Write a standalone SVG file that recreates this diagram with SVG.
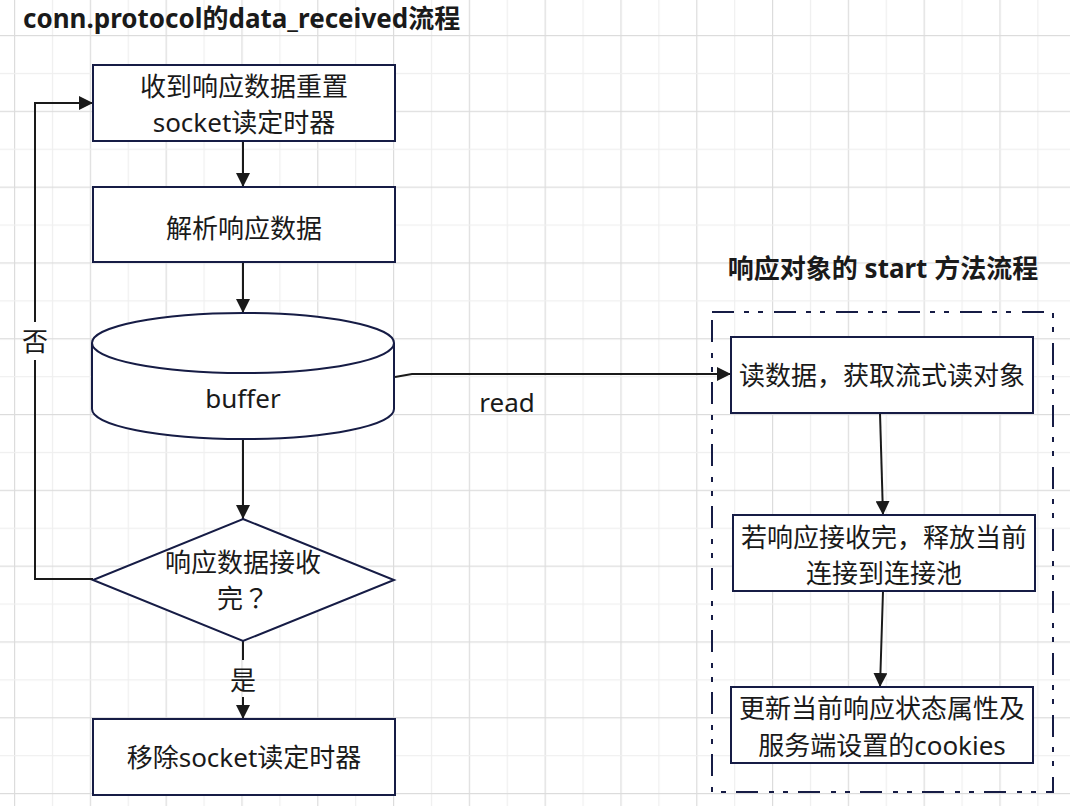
<svg xmlns="http://www.w3.org/2000/svg" width="1070" height="806" viewBox="0 0 1070 806">
<style>
.box{fill:#ffffff;stroke:#161c45;stroke-width:2}
.t{font-family:"Noto Sans","Noto Sans CJK SC",sans-serif;font-size:26px;fill:#1a1a1a;text-anchor:middle}
.tc{font-family:"Noto Sans CJK TC",sans-serif}
.ttl{font-family:"Noto Sans","Noto Sans CJK SC",sans-serif;font-size:26px;font-weight:bold;fill:#1a1a1a}
.edge{fill:none;stroke:#1a1a1a;stroke-width:2}
</style>
<defs>
<pattern id="grid" x="14" y="35" width="75.8" height="75.8" patternUnits="userSpaceOnUse">
<rect x="0" y="0" width="1.2" height="75.8" fill="#dcdcdc"/>
<rect x="37.9" y="0" width="1.2" height="75.8" fill="#efefef"/>
<rect x="0" y="0" width="75.8" height="1.2" fill="#dcdcdc"/>
<rect x="0" y="37.9" width="75.8" height="1.2" fill="#efefef"/>
</pattern>
<marker id="arr" markerUnits="userSpaceOnUse" markerWidth="14" markerHeight="14" refX="14" refY="7" orient="auto">
<path d="M0,0 L14,7 L0,14 Z" fill="#1a1a1a"/>
</marker>
</defs>
<rect x="0" y="0" width="1070" height="806" fill="#ffffff"/>
<rect x="0" y="0" width="1070" height="806" fill="url(#grid)"/>

<text class="ttl" x="23" y="28">conn.protocol的data_received流程</text>
<text class="ttl" x="883" y="278" text-anchor="middle">响应对象的 start 方法流程</text>

<g id="container">
<rect x="712" y="312" width="341" height="480" fill="none" stroke="#161c45" stroke-width="2" stroke-dasharray="22 10 5 9 5 11"/>
</g>

<g id="connectors">
<path class="edge" d="M243,141 L243,187" marker-end="url(#arr)"/>
<path class="edge" d="M243,262 L243,313" marker-end="url(#arr)"/>
<path class="edge" d="M243,439 L243,519" marker-end="url(#arr)"/>
<path class="edge" d="M93,579 L35,579 L35,360"/>
<path class="edge" d="M35,322 L35,103 L93,103" marker-end="url(#arr)"/>
<text class="t" x="35" y="351">否</text>
<path class="edge" d="M243,641 L243,660"/>
<path class="edge" d="M243,697 L243,719" marker-end="url(#arr)"/>
<text class="t" x="243" y="690">是</text>
<path class="edge" d="M395,377 L412,374 L731,374" marker-end="url(#arr)"/>
<text class="t" x="507" y="412">read</text>
<path class="edge" d="M880,413 L883,515" marker-end="url(#arr)"/>
<path class="edge" d="M883,591 L880,687" marker-end="url(#arr)"/>
</g>

<g id="n1">
<rect class="box" x="93" y="65" width="302" height="76"/>
<text class="t" x="244" y="96">收到响应数据重置</text>
<text class="t" x="244" y="132">socket读定时器</text>
</g>
<g id="n2">
<rect class="box" x="93" y="187" width="302" height="75"/>
<text class="t" x="244" y="238">解析响应数据</text>
</g>
<g id="buffer">
<path class="box" d="M92,343 A151,30 0 0,1 394,343 L394,409 A151,30 0 0,1 92,409 Z"/>
<path class="box" d="M92,343 A151,30 0 0,0 394,343" fill="none"/>
<text class="t" x="243" y="408">buffer</text>
</g>
<g id="decision">
<polygon class="box" points="243,519 394,580 243,641 93,580"/>
<text class="t" x="243" y="572">响应数据接收</text>
<text class="t" x="243" y="608">完<tspan class="tc">？</tspan></text>
</g>
<g id="n3">
<rect class="box" x="93" y="719" width="302" height="76"/>
<text class="t" x="244" y="767">移除socket读定时器</text>
</g>
<g id="r1">
<rect class="box" x="731" y="337" width="302" height="76"/>
<text class="t" x="882" y="385">读数据，获取流式读对象</text>
</g>
<g id="r2">
<rect class="box" x="733" y="515" width="302" height="76"/>
<text class="t" x="884" y="547">若响应接收完，释放当前</text>
<text class="t" x="884" y="583">连接到连接池</text>
</g>
<g id="r3">
<rect class="box" x="731" y="687" width="302" height="76"/>
<text class="t" x="882" y="718">更新当前响应状态属性及</text>
<text class="t" x="882" y="755">服务端设置的cookies</text>
</g>
</svg>
